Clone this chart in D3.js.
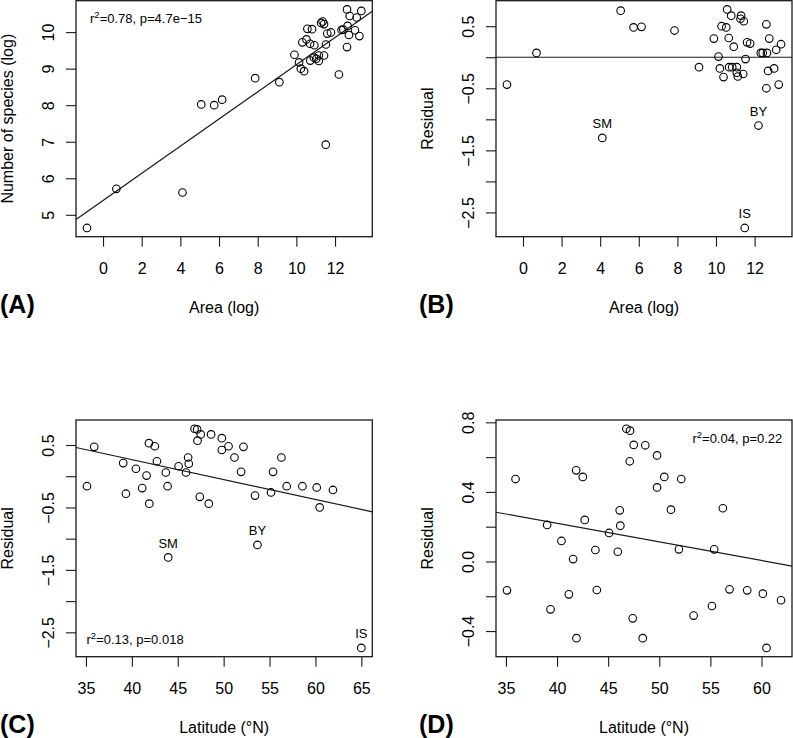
<!DOCTYPE html>
<html><head><meta charset="utf-8">
<script src="https://cdn.jsdelivr.net/npm/d3@7"></script>
<style>
body{margin:0;background:#fff}
svg{display:block;background:#fff}
text{font-family:"Liberation Sans",Arial,Helvetica,sans-serif;fill:#000}
</style>
</head><body>
<svg id="c" width="793" height="738"></svg>
<script>
// ---------- DATA ----------
// Panel A: species-area
const areaA = [-0.83, 0.69, 4.11, 5.08, 5.75, 6.16, 7.87, 9.12, 11.52, 12.20, 9.90, 10.14, 10.23, 10.40, 10.31, 10.52, 10.57, 10.81, 10.71, 10.93, 10.72, 10.91, 11.03, 11.16, 11.16, 11.28, 11.36, 11.43, 11.43, 11.53, 11.60, 11.79, 12.34, 12.43, 12.62, 12.76, 12.65, 12.72, 12.62, 13.03, 13.12, 13.26, 13.36];
const speciesA = [4.64, 5.71, 5.61, 8.02, 8.00, 8.15, 8.74, 8.63, 6.92, 8.84, 9.38, 9.17, 9.00, 8.93, 9.72, 9.80, 10.09, 10.08, 9.68, 9.64, 9.22, 9.30, 9.27, 9.21, 9.36, 10.25, 10.29, 10.22, 9.36, 9.66, 9.96, 9.99, 10.06, 10.07, 10.62, 10.44, 10.17, 9.92, 9.59, 10.05, 10.40, 9.89, 10.58];
const fitA = {intercept: 5.39, slope: 0.372};
const statA = ["0.78", "p=4.7e\u221215"];

// Panel B: residuals vs area
const areaB = [-0.83, 0.70, 4.11, 5.06, 5.73, 6.14, 7.85, 9.12, 9.89, 10.13, 10.20, 10.39, 10.29, 10.53, 10.58, 10.79, 10.66, 10.68, 10.84, 10.92, 11.08, 11.08, 11.13, 11.41, 11.30, 11.27, 11.44, 11.53, 11.61, 11.77, 12.32, 12.42, 12.64, 12.61, 12.76, 13.12, 13.37, 12.70, 13.01, 12.61, 13.25, 12.20, 11.49];
const residB = [-0.44, 0.07, -1.30, 0.75, 0.48, 0.49, 0.43, -0.16, 0.30, 0.01, -0.18, -0.32, 0.50, 0.48, 0.77, 0.67, 0.31, -0.16, -0.16, 0.17, -0.16, -0.25, -0.31, -0.27, 0.67, 0.62, 0.58, -0.03, 0.24, 0.22, 0.07, 0.07, 0.07, 0.53, 0.30, 0.12, 0.21, -0.22, -0.18, -0.50, -0.44, -1.10, -2.75];
const labelsB = {2: "SM", 41: "BY", 42: "IS"};
const fitB = {intercept: 0, slope: 0};

// Panel C: residuals vs latitude (all sites)
const latC = [35.11, 35.90, 39.06, 39.35, 40.44, 41.13, 41.60, 41.86, 42.50, 41.90, 42.73, 43.70, 43.89, 45.09, 45.90, 46.13, 46.20, 46.83, 47.11, 47.15, 47.50, 47.40, 48.38, 48.63, 49.80, 49.80, 50.53, 51.18, 51.90, 52.16, 53.42, 53.68, 55.16, 55.38, 56.29, 56.87, 58.58, 60.14, 60.46, 61.91, 43.96, 65.00];
const residC = [-0.16, 0.47, 0.21, -0.28, 0.12, -0.19, 0.01, 0.53, 0.48, -0.44, 0.24, 0.06, -0.16, 0.16, 0.06, 0.30, 0.20, 0.76, 0.75, 0.57, 0.67, -0.33, -0.44, 0.67, 0.61, 0.42, 0.48, 0.30, 0.07, 0.47, -0.31, -1.10, -0.26, 0.07, 0.30, -0.16, -0.16, -0.18, -0.50, -0.22, -1.30, -2.75];
const labelsC = {31: "BY", 40: "SM", 41: "IS"};
const fitC = {intercept: 1.542, slope: -0.0319};
const statC = ["0.13", "p=0.018"];

// Panel D: residuals vs latitude (outliers removed)
const latD = [35.94, 39.03, 40.43, 41.57, 41.87, 42.52, 42.71, 43.75, 45.09, 45.94, 46.13, 46.19, 46.78, 47.14, 47.50, 47.11, 48.63, 49.78, 49.78, 50.49, 51.14, 52.15, 51.92, 55.37, 56.22, 35.10, 39.36, 41.15, 43.89, 41.90, 47.40, 48.38, 53.36, 55.15, 56.87, 58.60, 60.13, 61.91, 60.49];
const residD = [0.474, 0.21, 0.118, 0.014, 0.524, 0.486, 0.239, 0.066, 0.164, 0.056, 0.294, 0.206, 0.763, 0.752, 0.670, 0.576, 0.668, 0.61, 0.426, 0.486, 0.298, 0.474, 0.07, 0.07, 0.306, -0.166, -0.275, -0.189, -0.164, -0.441, -0.327, -0.441, -0.311, -0.256, -0.16, -0.166, -0.185, -0.223, -0.497];
const fitD = {intercept: 0.647, slope: -0.01069};
const statD = ["0.04", "p=0.22"];

// Ticks
const ticksArea = [0, 2, 4, 6, 8, 10, 12];
const ticksSpecies = [5, 6, 7, 8, 9, 10];
const ticksResid = [-2.5, -2, -1.5, -1, -0.5, 0, 0.5];
const labelsResid = {"-2.5": "\u22122.5", "-1.5": "\u22121.5", "-0.5": "\u22120.5", "0.5": "0.5"};
const ticksLatC = [35, 40, 45, 50, 55, 60, 65];
const ticksLatD = [35, 40, 45, 50, 55, 60];
const ticksResidD = [-0.4, -0.2, 0, 0.2, 0.4, 0.6, 0.8];
const labelsResidD = {"-0.4": "\u22120.4", "0": "0.0", "0.4": "0.4", "0.8": "0.8"};

// ---------- DRAWING ----------
const svg = d3.select("#c");
const INK = "#1a1a1a";
function pad(ext){ const r = ext[1]-ext[0]; return [ext[0]-0.04*r, ext[1]+0.04*r]; }

function panel(cfg){
  const {x0, x1, y0, y1} = cfg.box;
  const xs = d3.scaleLinear().domain(pad(d3.extent(cfg.x))).range([x0, x1]);
  const ys = d3.scaleLinear().domain(pad(d3.extent(cfg.y))).range([y1, y0]);
  const g = svg.append("g");

  // x axis
  const xa = g.append("g").attr("transform", `translate(0,${y1})`)
    .call(d3.axisBottom(xs).tickValues(cfg.xticks).tickSize(10).tickFormat(d => String(d)));
  xa.select(".domain").remove();
  xa.selectAll("line").attr("stroke", INK).attr("stroke-width", 1.1);
  xa.selectAll("text").attr("y", 37).attr("dy", null)
    .attr("font-size", 16).attr("font-family", "Liberation Sans, Arial, sans-serif").attr("fill", "#000");

  // y axis
  const ya = g.append("g").attr("transform", `translate(${x0},0)`)
    .call(d3.axisLeft(ys).tickValues(cfg.yticks).tickSize(10).tickFormat(cfg.yfmt));
  ya.select(".domain").remove();
  ya.selectAll("line").attr("stroke", INK).attr("stroke-width", 1.1);
  ya.selectAll("text").attr("x", 0).attr("y", 0).attr("dy", "0.35em")
    .attr("text-anchor", "middle")
    .attr("transform", "translate(-28,0) rotate(-90)")
    .attr("font-size", 16).attr("font-family", "Liberation Sans, Arial, sans-serif").attr("fill", "#000");

  // regression line
  const dx = xs.domain();
  const f = v => cfg.fit.intercept + cfg.fit.slope * v;
  g.append("line")
    .attr("x1", xs(dx[0])).attr("y1", ys(f(dx[0])))
    .attr("x2", xs(dx[1])).attr("y2", ys(f(dx[1])))
    .attr("stroke", INK).attr("stroke-width", 1.2);

  // points
  const pts = cfg.x.map((v, i) => ({x: v, y: cfg.y[i], i}));
  g.append("g").selectAll("circle").data(pts).join("circle")
    .attr("cx", d => xs(d.x)).attr("cy", d => ys(d.y)).attr("r", 3.8)
    .attr("fill", "none").attr("stroke", "#000").attr("stroke-width", 1.1);

  // point labels
  if (cfg.labels){
    g.append("g").selectAll("text").data(pts.filter(d => cfg.labels[d.i])).join("text")
      .attr("x", d => xs(d.x)).attr("y", d => ys(d.y) - 9.5)
      .attr("text-anchor", "middle").attr("font-size", 13)
      .text(d => cfg.labels[d.i]);
  }

  // box
  g.append("rect").attr("x", x0).attr("y", y0).attr("width", x1 - x0).attr("height", y1 - y0)
    .attr("fill", "none").attr("stroke", INK).attr("stroke-width", 1.3);

  // stats text
  if (cfg.stat){
    const t = g.append("text").attr("font-size", 13)
      .attr("x", cfg.statPos[0]).attr("y", cfg.statPos[1])
      .attr("text-anchor", cfg.statAnchor);
    t.append("tspan").text("r");
    t.append("tspan").attr("dy", -5).attr("font-size", 9.5).text("2");
    t.append("tspan").attr("dy", 5).text("=" + cfg.stat[0] + ", " + cfg.stat[1]);
  }

  // axis titles
  g.append("text").attr("x", (x0 + x1) / 2).attr("y", y1 + 76)
    .attr("text-anchor", "middle").attr("font-size", 16).text(cfg.xtitle);
  g.append("text").attr("transform", `translate(${x0 - 63},${(y0 + y1) / 2}) rotate(-90)`)
    .attr("text-anchor", "middle").attr("font-size", 16).text(cfg.ytitle);

  // panel letter
  g.append("text").attr("x", cfg.letterX).attr("y", y1 + 76)
    .attr("font-size", 25).attr("font-weight", "bold").text(cfg.letter);
}

const fmtResid = d => labelsResid[String(d)] || "";
const fmtResidD = d => labelsResidD[String(d)] || "";

panel({box: {x0: 76, x1: 372.3, y0: 0.7, y1: 236.7}, x: areaA, y: speciesA, fit: fitA,
  xticks: ticksArea, yticks: ticksSpecies, yfmt: d => String(d),
  stat: statA, statPos: [90, 23.3], statAnchor: "start",
  xtitle: "Area (log)", ytitle: "Number of species (log)", letter: "(A)", letterX: 0});

panel({box: {x0: 496, x1: 792, y0: 0.7, y1: 236.7}, x: areaB, y: residB, fit: fitB,
  xticks: ticksArea, yticks: ticksResid, yfmt: fmtResid, labels: labelsB,
  xtitle: "Area (log)", ytitle: "Residual", letter: "(B)", letterX: 419});

panel({box: {x0: 76, x1: 372.3, y0: 420, y1: 656.7}, x: latC, y: residC, fit: fitC,
  xticks: ticksLatC, yticks: ticksResid, yfmt: fmtResid, labels: labelsC,
  stat: statC, statPos: [86.5, 644.3], statAnchor: "start",
  xtitle: "Latitude (\u00b0N)", ytitle: "Residual", letter: "(C)", letterX: 0});

panel({box: {x0: 496, x1: 792, y0: 420, y1: 656.7}, x: latD, y: residD, fit: fitD,
  xticks: ticksLatD, yticks: ticksResidD, yfmt: fmtResidD,
  stat: statD, statPos: [782.3, 443.3], statAnchor: "end",
  xtitle: "Latitude (\u00b0N)", ytitle: "Residual", letter: "(D)", letterX: 419});
</script>
</body></html>
